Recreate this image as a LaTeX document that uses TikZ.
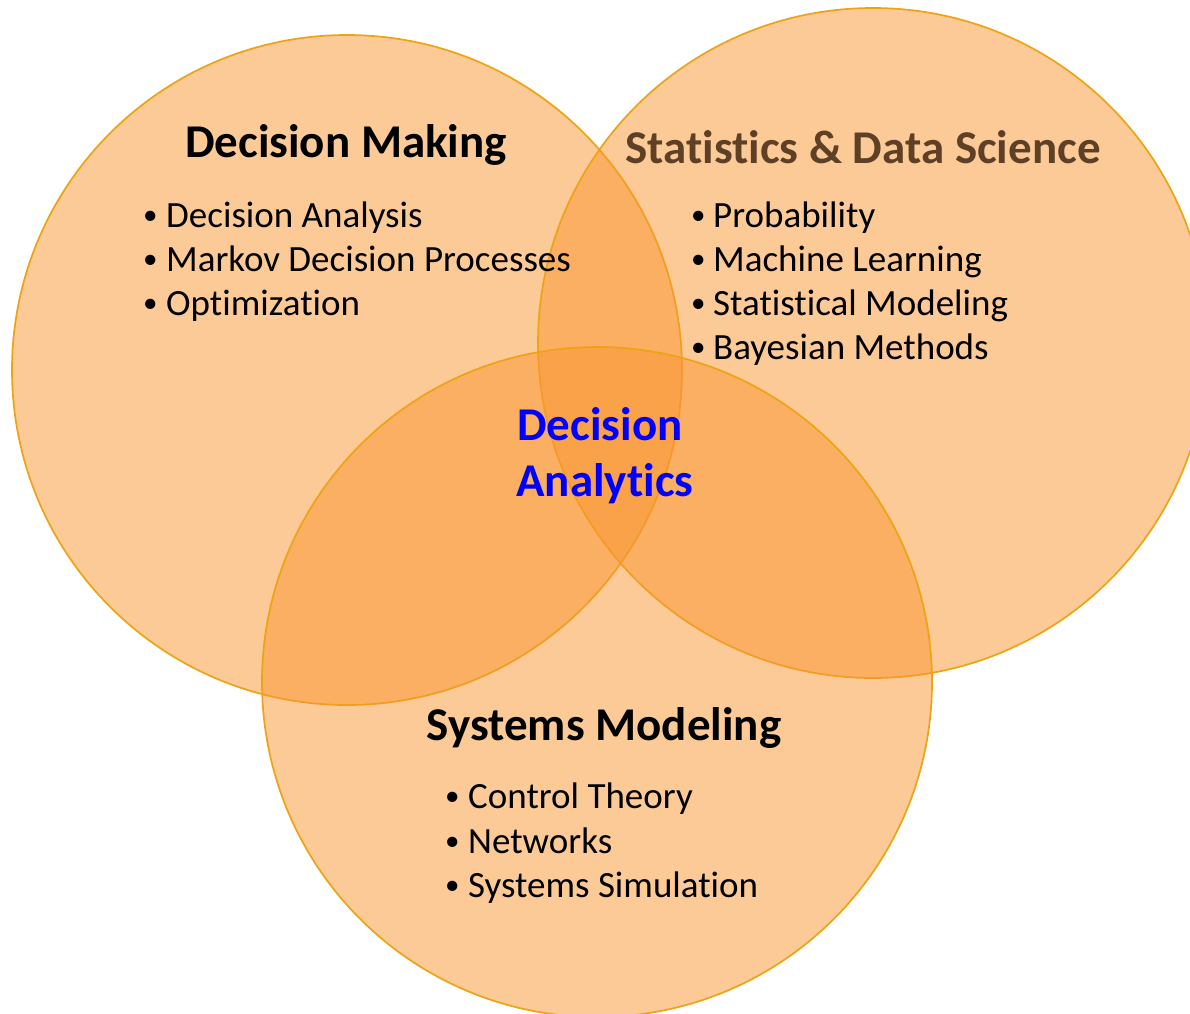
\documentclass[tikz,border=0pt]{standalone}
\usepackage{fontspec}
\setmainfont{Carlito}[Ligatures=NoCommon]
\definecolor{ringfill}{RGB}{250,150,48}
\definecolor{ringline}{RGB}{237,163,20}
\definecolor{brownhead}{RGB}{94,64,38}
\definecolor{pureblue}{RGB}{0,0,255}
\begin{document}
\begin{tikzpicture}[x=1pt,y=-1pt,
  ring/.style={fill=ringfill,fill opacity=0.5,draw=ringline,draw opacity=1,line width=1.7pt},
  head/.style={font=\fontsize{47}{56}\selectfont\bfseries,inner sep=0pt,anchor=base},
  item/.style={font=\fontsize{37}{44}\selectfont,inner sep=0pt,anchor=base west},
  dot/.style={font=\fontsize{29}{34}\selectfont,inner sep=0pt,anchor=base west}]
\useasboundingbox (0,0) rectangle (1190,1013);
\clip (0,0) rectangle (1190,1013);
\fill[white] (0,0) rectangle (1190,1013);
\draw[ring] (347,370) circle[radius=335];
\draw[ring] (873,343) circle[radius=335];
\draw[ring] (597,682) circle[radius=335];
% Decision Making
\node[head] (dm) at (346,157) {Decision Making};
\node[dot] (dmb1) at (143,224) {•};
\node[item] (dm1) at (166,227) {Decision Analysis};
\node[dot] (dmb2) at (143,268) {•};
\node[item] (dm2) at (166,271) {Markov Decision Processes};
\node[dot] (dmb3) at (143,312) {•};
\node[item] (dm3) at (166,315) {Optimization};
% Statistics
\node[head,text=brownhead] (sd) at (863,163) {Statistics \& Data Science};
\node[dot] (sdb1) at (691,224) {•};
\node[item] (sd1) at (713,227) {Probability};
\node[dot] (sdb2) at (691,268) {•};
\node[item] (sd2) at (713,271) {Machine Learning};
\node[dot] (sdb3) at (691,312) {•};
\node[item] (sd3) at (713,315) {Statistical Modeling};
\node[dot] (sdb4) at (691,356) {•};
\node[item] (sd4) at (713,359) {Bayesian Methods};
% Decision Analytics
\node[head,text=pureblue] (da1) at (600,440) {Decision};
\node[head,text=pureblue] (da2) at (605,496) {Analytics};
% Systems Modeling
\node[head] (sm) at (604,740) {Systems Modeling};
\node[dot] (smb1) at (445,805) {•};
\node[item] (sm1) at (468,808) {Control Theory};
\node[dot] (smb2) at (445,850) {•};
\node[item] (sm2) at (468,853) {Networks};
\node[dot] (smb3) at (445,894) {•};
\node[item] (sm3) at (468,897) {Systems Simulation};
\end{tikzpicture}
\end{document}
